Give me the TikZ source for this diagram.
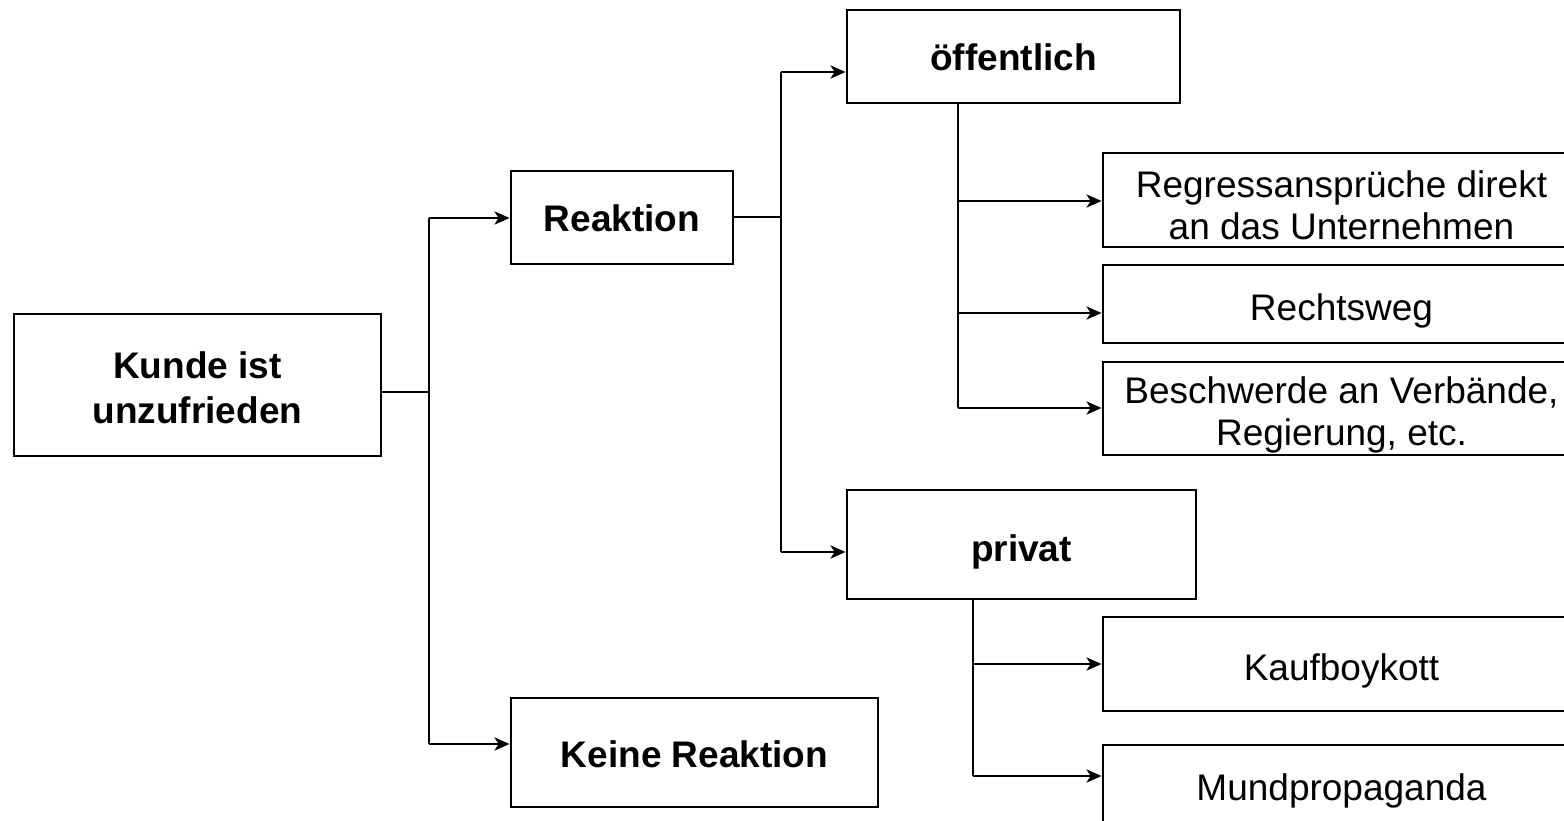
\documentclass[tikz,border=0pt]{standalone}
\usepackage{fontspec}
\setmainfont{Liberation Sans}
\usetikzlibrary{arrows.meta}
\begin{document}
\begin{tikzpicture}[x=1pt,y=-1pt,
  box/.style={draw, line width=2.8pt, inner sep=0pt},
  txt/.style={align=center, inner sep=0pt, font=\fontsize{37}{42}\selectfont},
  btxt/.style={txt, font=\fontsize{37}{45}\selectfont\bfseries},
  ln/.style={line width=2.8pt},
  arr/.style={ln, -{Stealth[length=15pt,width=13pt,inset=4pt]}}]
\clip (0,0) rectangle (1564,820);
\fill[white] (0,0) rectangle (1564,820);
% boxes
\node[box, minimum width=367pt, minimum height=142pt] (kunde) at (197.5,385) {};
\node[box, minimum width=222pt, minimum height=93pt] (reaktion) at (622,217.5) {};
\node[box, minimum width=367pt, minimum height=109pt] (keine) at (694.5,752.5) {};
\node[box, minimum width=333pt, minimum height=93pt] (oeff) at (1013.5,56.5) {};
\node[box, minimum width=349pt, minimum height=109pt] (privat) at (1021.5,544.5) {};
\node[box, minimum width=477pt, minimum height=94pt] (regress) at (1341.5,200) {};
\node[box, minimum width=477pt, minimum height=78pt] (recht) at (1341.5,304) {};
\node[box, minimum width=477pt, minimum height=93pt] (beschw) at (1341.5,408.5) {};
\node[box, minimum width=477pt, minimum height=94pt] (kauf) at (1341.5,664) {};
\node[box, minimum width=477pt, minimum height=94pt] (mund) at (1341.5,792) {};
% texts
\node[btxt] (kunde-t) at ([yshift=-3pt]kunde.center) {Kunde ist\\unzufrieden};
\node[btxt] (reaktion-t) at ([yshift=-1pt]reaktion.center) {Reaktion};
\node[btxt] (keine-t) at ([yshift=-2pt]keine.center) {Keine Reaktion};
\node[btxt] (oeff-t) at ([yshift=-1pt]oeff.center) {öffentlich};
\node[btxt] (privat-t) at ([yshift=-7pt]privat.center) {privat};
\node[txt] (regress-t) at ([yshift=-5pt]regress.center) {Regressansprüche direkt\\an das Unternehmen};
\node[txt] (recht-t) at ([yshift=-7pt]recht.center) {Rechtsweg};
\node[txt] (beschw-t) at ([yshift=-6pt]beschw.center) {Beschwerde an Verbände,\\Regierung, etc.};
\node[txt] (kauf-t) at ([yshift=-7pt]kauf.center) {Kaufboykott};
\node[txt] (mund-t) at ([yshift=1pt]mund.center) {Mundpropaganda};
% level 1
\coordinate (t1) at (429,0);
\draw[ln] (kunde.east |- 0,392) -- (t1 |- 0,392);
\draw[ln] (t1 |- 0,218) -- (t1 |- 0,744);
\draw[arr] (t1 |- 0,218) -- (reaktion.west |- 0,218);
\draw[arr] (t1 |- 0,744) -- (keine.west |- 0,744);
% level 2
\coordinate (t2) at (781,0);
\draw[ln] (reaktion.east |- 0,217) -- (t2 |- 0,217);
\draw[ln] (t2 |- 0,72) -- (t2 |- 0,552);
\draw[arr] (t2 |- 0,72) -- (oeff.west |- 0,72);
\draw[arr] (t2 |- 0,552) -- (privat.west |- 0,552);
% öffentlich children
\coordinate (t3) at (958,0);
\draw[ln] (oeff.south -| t3) -- (t3 |- 0,408);
\draw[arr] (t3 |- 0,201) -- (regress.west |- 0,201);
\draw[arr] (t3 |- 0,313) -- (recht.west |- 0,313);
\draw[arr] (t3 |- 0,408) -- (beschw.west |- 0,408);
% privat children
\coordinate (t4) at (973,0);
\draw[ln] (privat.south -| t4) -- (t4 |- 0,776);
\draw[arr] (t4 |- 0,664) -- (kauf.west |- 0,664);
\draw[arr] (t4 |- 0,776) -- (mund.west |- 0,776);
\end{tikzpicture}
\end{document}
